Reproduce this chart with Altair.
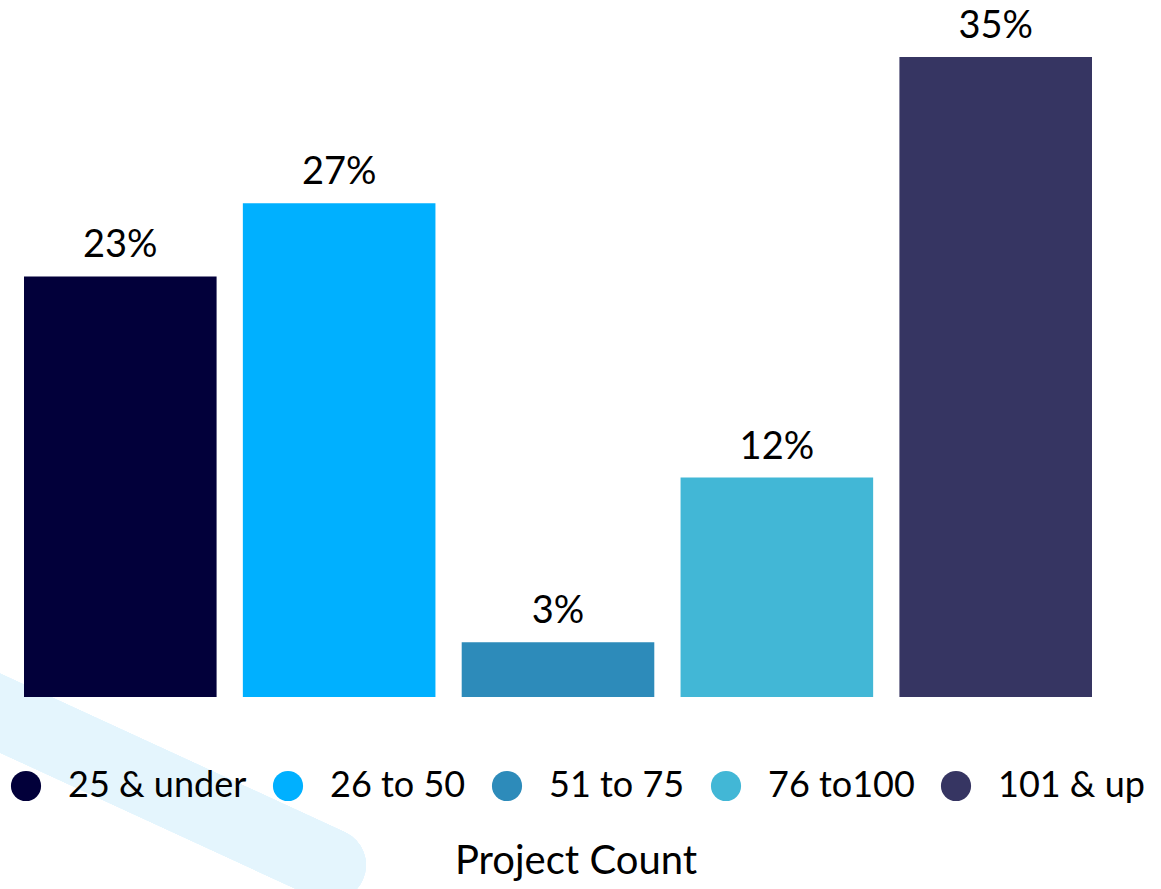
import altair as alt
import pandas as pd

# Share of projects by project-count bucket (percent)
categories = ["25 & under", "26 to 50", "51 to 75", "76 to100", "101 & up"]
percents = [23, 27, 3, 12, 35]
colors = ["#02003A", "#00B0FF", "#2D8BBA", "#42B7D6", "#363562"]

df = pd.DataFrame({"bucket": categories, "pct": percents})

FONT = "Lato"

color_scale = alt.Scale(domain=categories, range=colors)

base = alt.Chart(df).encode(
    x=alt.X("bucket:N", sort=categories, axis=None,
            scale=alt.Scale(paddingInner=0.12, paddingOuter=0)),
    y=alt.Y("pct:Q", axis=None, scale=alt.Scale(domain=[0, 35], nice=False, zero=True)),
)

# light decorative stripe in the lower-left corner
stripe = alt.Chart(df).mark_rule(
    color="#E4F5FD", strokeWidth=72, strokeCap="round"
).encode(
    x=alt.value(-124), y=alt.value(610), x2=alt.value(306), y2=alt.value(808)
)

bars = base.mark_bar(opacity=1).encode(
    color=alt.Color(
        "bucket:N",
        scale=color_scale,
        sort=categories,
        legend=alt.Legend(
            title="Project Count",
            orient="none",
            direction="horizontal",
            legendX=-16,
            legendY=711,
            titleOrient="bottom",
            titleAnchor="middle",
            titleFontSize=40,
            titleFontWeight="normal",
            titleFont=FONT,
            titleColor="#000000",
            titleLimit=800,
            titlePadding=38,
            labelFont=FONT,
            labelFontSize=36,
            labelColor="#000000",
            labelLimit=400,
            labelOffset=24,
            columnPadding=23,
            symbolType="circle",
            symbolSize=908,
            symbolStrokeWidth=0,
            symbolOpacity=1,
            padding=0,
        ),
    )
)

labels = base.transform_calculate(
    label="datum.pct + '%'"
).mark_text(
    font=FONT, fontSize=38, color="#000000", baseline="alphabetic", dy=-19
).encode(text="label:N")

chart = (
    alt.layer(stripe, bars, labels)
    .properties(
        width=1068,
        height=640,
        autosize=alt.AutoSizeParams(type="none"),
        padding={"left": 24, "top": 57, "right": 69, "bottom": 192},
        background="#FFFFFF",
    )
    .configure(font=FONT)
    .configure_view(strokeWidth=0, stroke="transparent")
)

chart.save("out.html", embed_options={"renderer": "svg", "actions": False})
